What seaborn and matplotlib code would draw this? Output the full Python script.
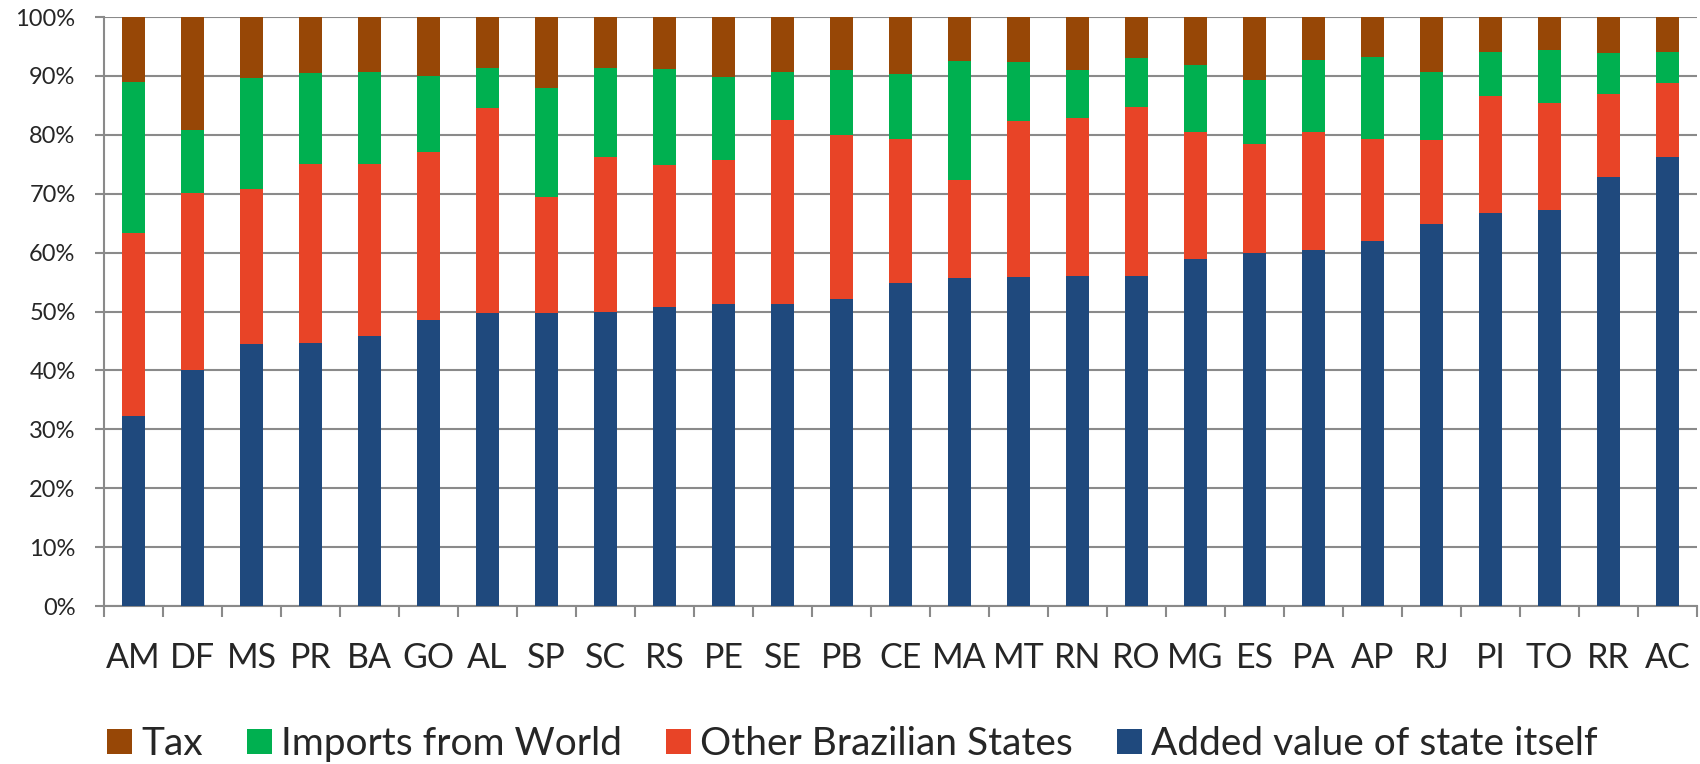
import numpy as np
import pandas as pd
import matplotlib
matplotlib.use("Agg")
import matplotlib.pyplot as plt
from matplotlib.patches import Patch
from matplotlib.ticker import FixedLocator, PercentFormatter
import seaborn as sns

# ==========================================
# Data (shares of each state's supply, %)
# ==========================================
states = ["AM", "DF", "MS", "PR", "BA", "GO", "AL", "SP", "SC", "RS", "PE", "SE", "PB", "CE",
          "MA", "MT", "RN", "RO", "MG", "ES", "PA", "AP", "RJ", "PI", "TO", "RR", "AC"]
added_value = [32.3, 40.0, 44.5, 44.7, 45.9, 48.5, 49.7, 49.7, 50.0, 50.8, 51.2, 51.2, 52.2, 54.8,
               55.7, 55.8, 56.0, 56.0, 59.0, 59.9, 60.5, 61.9, 64.8, 66.8, 67.3, 72.8, 76.3]
other_states = [31.0, 30.2, 26.3, 30.4, 29.1, 28.5, 34.8, 19.7, 26.3, 24.1, 24.6, 31.4, 27.8, 24.5,
                16.7, 26.6, 26.9, 28.8, 21.5, 18.6, 20.0, 17.4, 14.4, 19.8, 18.1, 14.1, 12.5]
imports_world = [25.7, 10.7, 18.8, 15.4, 15.7, 13.0, 6.9, 18.6, 15.0, 16.3, 14.0, 8.1, 11.0, 11.0,
                 20.1, 10.0, 8.1, 8.3, 11.4, 10.8, 12.2, 13.9, 11.5, 7.5, 9.0, 7.0, 5.2]
tax = [11.0, 19.1, 10.4, 9.5, 9.3, 10.0, 8.6, 12.0, 8.7, 8.8, 10.2, 9.3, 9.0, 9.7,
       7.5, 7.6, 9.0, 6.9, 8.1, 10.7, 7.3, 6.8, 9.3, 5.9, 5.6, 6.1, 6.0]

series_names = ["Added value of state itself", "Other Brazilian States", "Imports from World", "Tax"]
colors = ["#1F497D", "#E84427", "#00B050", "#974706"]

df = pd.DataFrame({
    "state": states,
    series_names[0]: added_value,
    series_names[1]: other_states,
    series_names[2]: imports_world,
    series_names[3]: tax,
})
# cumulative tops for the stacked layers
cum = df[series_names].cumsum(axis=1)

sns.set_theme(style="white")
plt.rcParams["font.family"] = ["Lato", "DejaVu Sans"]

fig = plt.figure(figsize=(17, 7.64), dpi=100)
ax = fig.add_axes([0.0612, 0.2068, 0.9371, 0.7709])

# draw tallest layer first, each shorter one on top
for name, color in reversed(list(zip(series_names, colors))):
    sns.barplot(x=df["state"], y=cum[name], color=color, width=0.4,
                linewidth=0, saturation=1, ax=ax, zorder=3)

ax.set_xlim(-0.5, len(states) - 0.5)
ax.set_ylim(0, 100)
ax.yaxis.set_major_locator(FixedLocator(np.arange(0, 101, 10)))
ax.yaxis.set_major_formatter(PercentFormatter(decimals=0))
ax.grid(axis="y", color="#8a8a8a", linewidth=1.5, zorder=0)
ax.set_axisbelow(True)
ax.set_xlabel("")
ax.set_ylabel("")

for side in ["top", "right"]:
    ax.spines[side].set_visible(False)
for side in ["left", "bottom"]:
    ax.spines[side].set_color("#8a8a8a")
    ax.spines[side].set_linewidth(1.5)

ax.tick_params(axis="y", length=6.5, width=1.5, color="#8a8a8a", pad=14, labelsize=17, left=True)
ax.tick_params(axis="x", which="major", length=0, pad=26, labelsize=24.5)
ax.xaxis.set_minor_locator(FixedLocator(np.arange(-0.5, len(states), 1)))
ax.tick_params(axis="x", which="minor", length=8, width=1.5, color="#8a8a8a", bottom=True)

handles = [Patch(facecolor=c, edgecolor="none") for c in reversed(colors)]
fig.legend(handles, list(reversed(series_names)), loc="center left",
           bbox_to_anchor=(0.0632, 0.026), ncol=4, frameon=False, fontsize=28,
           borderpad=0, borderaxespad=0,
           handlelength=0.64, handleheight=0.64, handletextpad=0.22, columnspacing=1.15)

fig.savefig("out.png", dpi=100)
plt.close(fig)
